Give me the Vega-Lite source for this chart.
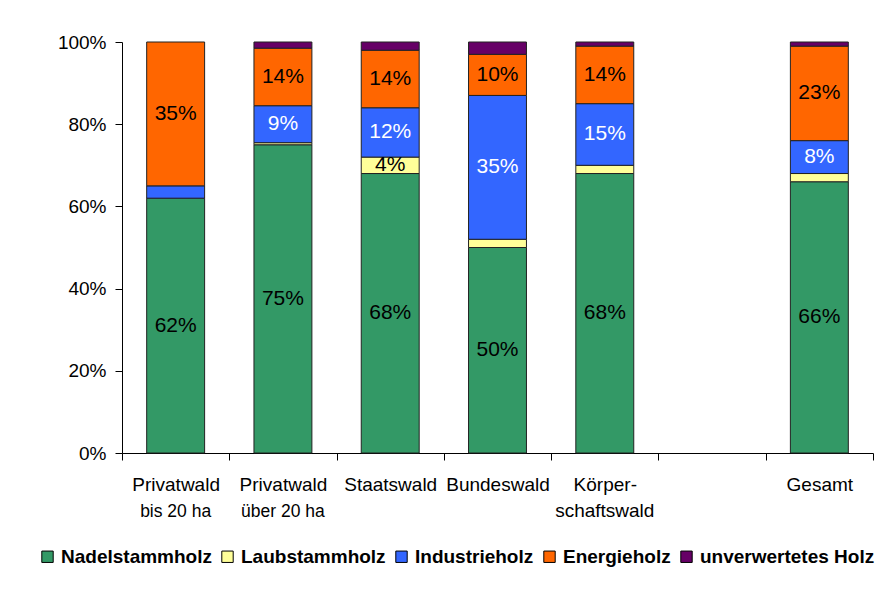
{
  "$schema": "https://vega.github.io/schema/vega-lite/v6.json",
  "width": 751,
  "height": 411,
  "autosize": {"type": "none"},
  "padding": {"left": 122, "top": 42, "right": 9, "bottom": 155},
  "background": "white",
  "config": {
    "font": "Liberation Sans",
    "view": {"stroke": null},
    "axis": {"grid": false, "domainColor": "#000", "tickColor": "#000", "labelColor": "#000", "domainWidth": 1, "tickWidth": 1}
  },
  "data": {
    "values": [
      {"cat": "Privatwald|bis 20 ha", "type": "Nadelstammholz", "order": 1, "value": 0.62},
      {"cat": "Privatwald|bis 20 ha", "type": "Industrieholz", "order": 3, "value": 0.03},
      {"cat": "Privatwald|bis 20 ha", "type": "Energieholz", "order": 4, "value": 0.35},
      {"cat": "Privatwald|über 20 ha", "type": "Nadelstammholz", "order": 1, "value": 0.75},
      {"cat": "Privatwald|über 20 ha", "type": "Laubstammholz", "order": 2, "value": 0.005},
      {"cat": "Privatwald|über 20 ha", "type": "Industrieholz", "order": 3, "value": 0.09},
      {"cat": "Privatwald|über 20 ha", "type": "Energieholz", "order": 4, "value": 0.14},
      {"cat": "Privatwald|über 20 ha", "type": "unverwertetes Holz", "order": 5, "value": 0.015},
      {"cat": "Staatswald", "type": "Nadelstammholz", "order": 1, "value": 0.68},
      {"cat": "Staatswald", "type": "Laubstammholz", "order": 2, "value": 0.04},
      {"cat": "Staatswald", "type": "Industrieholz", "order": 3, "value": 0.12},
      {"cat": "Staatswald", "type": "Energieholz", "order": 4, "value": 0.14},
      {"cat": "Staatswald", "type": "unverwertetes Holz", "order": 5, "value": 0.02},
      {"cat": "Bundeswald", "type": "Nadelstammholz", "order": 1, "value": 0.50},
      {"cat": "Bundeswald", "type": "Laubstammholz", "order": 2, "value": 0.02},
      {"cat": "Bundeswald", "type": "Industrieholz", "order": 3, "value": 0.35},
      {"cat": "Bundeswald", "type": "Energieholz", "order": 4, "value": 0.10},
      {"cat": "Bundeswald", "type": "unverwertetes Holz", "order": 5, "value": 0.03},
      {"cat": "Körper-|schaftswald", "type": "Nadelstammholz", "order": 1, "value": 0.68},
      {"cat": "Körper-|schaftswald", "type": "Laubstammholz", "order": 2, "value": 0.02},
      {"cat": "Körper-|schaftswald", "type": "Industrieholz", "order": 3, "value": 0.15},
      {"cat": "Körper-|schaftswald", "type": "Energieholz", "order": 4, "value": 0.14},
      {"cat": "Körper-|schaftswald", "type": "unverwertetes Holz", "order": 5, "value": 0.01},
      {"cat": "Gesamt", "type": "Nadelstammholz", "order": 1, "value": 0.66},
      {"cat": "Gesamt", "type": "Laubstammholz", "order": 2, "value": 0.02},
      {"cat": "Gesamt", "type": "Industrieholz", "order": 3, "value": 0.08},
      {"cat": "Gesamt", "type": "Energieholz", "order": 4, "value": 0.23},
      {"cat": "Gesamt", "type": "unverwertetes Holz", "order": 5, "value": 0.01}
    ]
  },
  "transform": [
    {"stack": "value", "groupby": ["cat"], "sort": [{"field": "order"}], "as": ["v0", "v1"]},
    {"calculate": "(datum.v0 + datum.v1) / 2", "as": "mid"}
  ],
  "layer": [
    {
      "mark": {"type": "bar", "width": {"band": 0.54}, "stroke": "#222", "strokeWidth": 1},
      "encoding": {
        "x": {
          "field": "cat", "type": "nominal", "sort": null,
          "scale": {
            "domain": ["Privatwald|bis 20 ha", "Privatwald|über 20 ha", "Staatswald", "Bundeswald", "Körper-|schaftswald", " ", "Gesamt"],
            "paddingInner": 0, "paddingOuter": 0
          },
          "axis": {
            "title": null, "labelExpr": "isString(datum.value) ? split(datum.value, '|')[0] : ''", "labelAngle": 0,
            "labelFontSize": 19, "labelBaseline": "alphabetic", "tickSize": 7, "labelPadding": 30,
            "tickBand": "extent", "labelOverlap": false, "labelBound": false
          }
        },
        "y": {
          "field": "v0", "type": "quantitative", "scale": {"domain": [0, 1]},
          "axis": {"title": null, "format": ".0%", "values": [0, 0.2, 0.4, 0.6, 0.8, 1], "labelFontSize": 19, "tickSize": 7, "labelPadding": 9}
        },
        "y2": {"field": "v1"},
        "color": {
          "field": "type", "type": "nominal",
          "scale": {
            "domain": ["Nadelstammholz", "Laubstammholz", "Industrieholz", "Energieholz", "unverwertetes Holz"],
            "range": ["#339966", "#FFFF99", "#3366FF", "#FF6600", "#660066"]
          },
          "legend": {
            "title": null, "orient": "none", "direction": "horizontal", "columns": 5,
            "legendX": -84, "legendY": 505, "padding": 0,
            "labelFontSize": 19, "labelFontWeight": "bold", "labelColor": "#000", "labelLimit": 400,
            "symbolType": "square", "symbolSize": 130, "symbolStrokeColor": "#000", "symbolStrokeWidth": 1,
            "columnPadding": 6, "labelOffset": 4
          }
        }
      }
    },
    {
      "transform": [{"filter": "datum.value >= 0.04 && datum.type != 'unverwertetes Holz'"}],
      "mark": {"type": "text", "fontSize": 21},
      "encoding": {
        "x": {
          "field": "cat", "type": "nominal", "sort": null,
          "axis": {
            "orient": "bottom", "title": null, "domain": false, "ticks": false, "tickSize": 0,
            "labelExpr": "isString(datum.value) && length(split(datum.value, '|')) > 1 ? split(datum.value, '|')[1] : ''",
            "labelFontSize": {"condition": {"test": "datum.value == 'Körper-|schaftswald'", "value": 19}, "value": 17.5},
            "labelBaseline": "alphabetic", "labelPadding": 63, "labelAngle": 0, "labelOverlap": false, "labelBound": false
          }
        },
        "y": {"field": "mid", "type": "quantitative"},
        "text": {"field": "value", "type": "quantitative", "format": ".0%"},
        "color": {"condition": {"test": "datum.type == 'Industrieholz'", "value": "white"}, "value": "black"}
      }
    }
  ],
  "resolve": {"axis": {"x": "independent"}}
}
